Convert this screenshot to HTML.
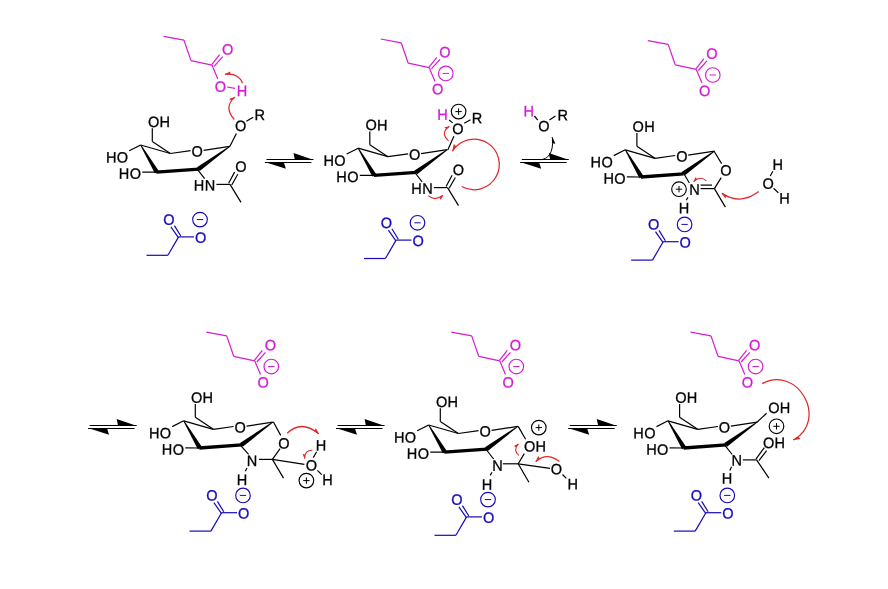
<!DOCTYPE html>
<html><head><meta charset="utf-8"><style>
html,body{margin:0;padding:0;background:#fff;}
svg{display:block;filter:blur(0.3px);}
text{font-family:"Liberation Sans",sans-serif;text-rendering:geometricPrecision;stroke-width:0.3px;}
</style></head><body>
<svg width="888" height="589" viewBox="0 0 888 589">
<rect width="888" height="589" fill="#fff"/>
<line x1="152.30" y1="141.50" x2="152.30" y2="128.20" stroke="#000" stroke-width="1.2"/>
<text transform="translate(158.75,121.80) rotate(0.3) scale(1.0,1.03)" x="-10.83" y="4.99" fill="#000" stroke="#000" font-size="14.5" letter-spacing="0.4">OH</text>
<line x1="152.30" y1="141.50" x2="170.40" y2="153.50" stroke="#000" stroke-width="1.2"/>
<line x1="140.70" y1="145.00" x2="170.40" y2="153.50" stroke="#000" stroke-width="1.2"/>
<line x1="140.70" y1="145.00" x2="129.20" y2="150.80" stroke="#000" stroke-width="1.2"/>
<text transform="translate(117.30,157.40) rotate(0.3) scale(1.0,1.03)" x="-11.32" y="4.99" fill="#000" stroke="#000" font-size="14.5" letter-spacing="0.4">HO</text>
<polygon points="140.31,145.23 154.82,173.37 158.78,171.03 141.09,144.77" fill="#000"/>
<line x1="156.80" y1="172.20" x2="142.30" y2="172.10" stroke="#000" stroke-width="1.2"/>
<text transform="translate(130.20,173.70) rotate(0.3) scale(1.0,1.03)" x="-11.32" y="4.99" fill="#000" stroke="#000" font-size="14.5" letter-spacing="0.4">HO</text>
<line x1="156.30" y1="172.20" x2="198.90" y2="169.10" stroke="#000" stroke-width="3.3"/>
<polygon points="229.54,146.04 197.05,167.24 199.75,170.96 230.06,146.76" fill="#000"/>
<line x1="170.40" y1="153.50" x2="190.60" y2="150.70" stroke="#000" stroke-width="1.2"/>
<text transform="translate(197.20,151.50) rotate(0.3) scale(1.0,1.03)" x="-5.64" y="4.99" fill="#000" stroke="#000" font-size="14.5" letter-spacing="0.4">O</text>
<line x1="203.60" y1="150.40" x2="229.80" y2="146.40" stroke="#000" stroke-width="1.2"/>
<line x1="229.80" y1="146.40" x2="236.40" y2="133.40" stroke="#000" stroke-width="1.2"/>
<text transform="translate(240.60,125.80) rotate(0.3) scale(1.0,1.03)" x="-5.64" y="4.99" fill="#000" stroke="#000" font-size="14.5" letter-spacing="0.4">O</text>
<line x1="246.40" y1="121.20" x2="253.20" y2="117.20" stroke="#000" stroke-width="1.2"/>
<text transform="translate(260.10,114.80) rotate(0.3) scale(1.0,1.03)" x="-5.49" y="4.99" fill="#000" stroke="#000" font-size="14.5" letter-spacing="0.4">R</text>
<line x1="197.80" y1="169.80" x2="204.60" y2="178.60" stroke="#000" stroke-width="1.2"/>
<text transform="translate(204.50,185.40) rotate(0.3) scale(1.0,1.03)" x="-10.67" y="4.99" fill="#000" stroke="#000" font-size="14.5" letter-spacing="0.4">HN</text>
<line x1="216.40" y1="184.40" x2="230.00" y2="184.40" stroke="#000" stroke-width="1.2"/>
<line x1="230.00" y1="184.40" x2="241.00" y2="202.40" stroke="#000" stroke-width="1.2"/>
<line x1="228.60" y1="183.30" x2="234.60" y2="172.10" stroke="#000" stroke-width="1.2"/>
<line x1="231.70" y1="185.00" x2="237.80" y2="174.30" stroke="#000" stroke-width="1.2"/>
<text transform="translate(241.00,166.60) rotate(0.3) scale(1.0,1.03)" x="-5.64" y="4.99" fill="#000" stroke="#000" font-size="14.5" letter-spacing="0.4">O</text>
<g transform="translate(-217.2,-2.6)">
<line x1="380.80" y1="39.00" x2="401.20" y2="42.80" stroke="#d41cd4" stroke-width="1.2"/>
<line x1="401.20" y1="42.80" x2="408.20" y2="63.20" stroke="#d41cd4" stroke-width="1.2"/>
<line x1="408.20" y1="63.20" x2="429.20" y2="67.70" stroke="#d41cd4" stroke-width="1.2"/>
<line x1="428.90" y1="67.30" x2="436.80" y2="57.30" stroke="#d41cd4" stroke-width="1.2"/>
<line x1="431.30" y1="68.90" x2="440.00" y2="59.30" stroke="#d41cd4" stroke-width="1.2"/>
<text transform="translate(444.90,52.10) rotate(0.3) scale(1.0,1.03)" x="-5.64" y="4.99" fill="#d41cd4" stroke="#d41cd4" font-size="14.5" letter-spacing="0.4">O</text>
<line x1="429.20" y1="67.70" x2="435.00" y2="81.50" stroke="#d41cd4" stroke-width="1.2"/>
<text transform="translate(437.60,89.20) rotate(0.3) scale(1.0,1.03)" x="-5.64" y="4.99" fill="#d41cd4" stroke="#d41cd4" font-size="14.5" letter-spacing="0.4">O</text>
</g>
<line x1="227.20" y1="87.00" x2="235.00" y2="88.30" stroke="#d41cd4" stroke-width="1.2"/>
<text transform="translate(242.00,90.80) rotate(0.3) scale(1.0,1.03)" x="-5.24" y="4.99" fill="#d41cd4" stroke="#d41cd4" font-size="14.5" letter-spacing="0.4">H</text>
<line x1="146.50" y1="255.30" x2="167.90" y2="255.30" stroke="#1608bc" stroke-width="1.2"/>
<line x1="167.90" y1="255.30" x2="178.60" y2="236.90" stroke="#1608bc" stroke-width="1.2"/>
<line x1="178.40" y1="237.60" x2="170.90" y2="226.90" stroke="#1608bc" stroke-width="1.2"/>
<line x1="180.80" y1="236.00" x2="174.40" y2="225.60" stroke="#1608bc" stroke-width="1.2"/>
<text transform="translate(169.00,219.60) rotate(0.3) scale(1.0,1.03)" x="-5.64" y="4.99" fill="#1608bc" stroke="#1608bc" font-size="14.5" letter-spacing="0.4">O</text>
<line x1="178.60" y1="236.90" x2="194.00" y2="236.90" stroke="#1608bc" stroke-width="1.2"/>
<text transform="translate(200.60,237.70) rotate(0.3) scale(1.0,1.03)" x="-5.64" y="4.99" fill="#1608bc" stroke="#1608bc" font-size="14.5" letter-spacing="0.4">O</text>
<circle cx="200.00" cy="219.60" r="7.3" fill="none" stroke="#1608bc" stroke-width="1.15"/>
<line x1="196.80" y1="219.60" x2="203.20" y2="219.60" stroke="#1608bc" stroke-width="1"/>
<path d="M242.50,83.30 Q238.95,73.00 225.20,74.30" fill="none" stroke="#e02828" stroke-width="1.25"/>
<polygon points="224.60,74.36 230.45,71.39 230.18,74.43 225.25,74.80" fill="#e02828"/>
<path d="M234.30,119.50 Q223.25,107.30 234.80,97.10" fill="none" stroke="#e02828" stroke-width="1.25"/>
<polygon points="235.25,96.70 229.09,98.94 231.49,100.83 235.13,97.47" fill="#e02828"/>
<g transform="translate(264.9,159.5)">
<line x1="1.60" y1="0.00" x2="48.50" y2="0.00" stroke="#000" stroke-width="1.1"/>
<polygon points="28.60,-6.60 49.00,0.55 30.00,0.55" fill="#000"/>
<line x1="0.00" y1="3.00" x2="46.50" y2="3.00" stroke="#000" stroke-width="1.1"/>
<polygon points="-0.20,2.45 21.00,9.30 18.80,2.45" fill="#000"/>
</g>
<g transform="translate(217.5,3.2)">
<line x1="152.30" y1="141.50" x2="152.30" y2="128.20" stroke="#000" stroke-width="1.2"/>
<text transform="translate(158.75,121.80) rotate(0.3) scale(1.0,1.03)" x="-10.83" y="4.99" fill="#000" stroke="#000" font-size="14.5" letter-spacing="0.4">OH</text>
<line x1="152.30" y1="141.50" x2="170.40" y2="153.50" stroke="#000" stroke-width="1.2"/>
<line x1="140.70" y1="145.00" x2="170.40" y2="153.50" stroke="#000" stroke-width="1.2"/>
<line x1="140.70" y1="145.00" x2="129.20" y2="150.80" stroke="#000" stroke-width="1.2"/>
<text transform="translate(117.30,157.40) rotate(0.3) scale(1.0,1.03)" x="-11.32" y="4.99" fill="#000" stroke="#000" font-size="14.5" letter-spacing="0.4">HO</text>
<polygon points="140.31,145.23 154.82,173.37 158.78,171.03 141.09,144.77" fill="#000"/>
<line x1="156.80" y1="172.20" x2="142.30" y2="172.10" stroke="#000" stroke-width="1.2"/>
<text transform="translate(130.20,173.70) rotate(0.3) scale(1.0,1.03)" x="-11.32" y="4.99" fill="#000" stroke="#000" font-size="14.5" letter-spacing="0.4">HO</text>
<line x1="156.30" y1="172.20" x2="198.90" y2="169.10" stroke="#000" stroke-width="3.3"/>
<polygon points="229.54,146.04 197.05,167.24 199.75,170.96 230.06,146.76" fill="#000"/>
<line x1="170.40" y1="153.50" x2="190.60" y2="150.70" stroke="#000" stroke-width="1.2"/>
<text transform="translate(197.20,151.50) rotate(0.3) scale(1.0,1.03)" x="-5.64" y="4.99" fill="#000" stroke="#000" font-size="14.5" letter-spacing="0.4">O</text>
<line x1="203.60" y1="150.40" x2="229.80" y2="146.40" stroke="#000" stroke-width="1.2"/>
<line x1="146.50" y1="255.30" x2="167.90" y2="255.30" stroke="#1608bc" stroke-width="1.2"/>
<line x1="167.90" y1="255.30" x2="178.60" y2="236.90" stroke="#1608bc" stroke-width="1.2"/>
<line x1="178.40" y1="237.60" x2="170.90" y2="226.90" stroke="#1608bc" stroke-width="1.2"/>
<line x1="180.80" y1="236.00" x2="174.40" y2="225.60" stroke="#1608bc" stroke-width="1.2"/>
<text transform="translate(169.00,219.60) rotate(0.3) scale(1.0,1.03)" x="-5.64" y="4.99" fill="#1608bc" stroke="#1608bc" font-size="14.5" letter-spacing="0.4">O</text>
<line x1="178.60" y1="236.90" x2="194.00" y2="236.90" stroke="#1608bc" stroke-width="1.2"/>
<text transform="translate(200.60,237.70) rotate(0.3) scale(1.0,1.03)" x="-5.64" y="4.99" fill="#1608bc" stroke="#1608bc" font-size="14.5" letter-spacing="0.4">O</text>
<circle cx="200.00" cy="219.60" r="7.3" fill="none" stroke="#1608bc" stroke-width="1.15"/>
<line x1="196.80" y1="219.60" x2="203.20" y2="219.60" stroke="#1608bc" stroke-width="1"/>
<line x1="197.80" y1="169.80" x2="204.60" y2="178.60" stroke="#000" stroke-width="1.2"/>
<text transform="translate(204.50,185.40) rotate(0.3) scale(1.0,1.03)" x="-10.67" y="4.99" fill="#000" stroke="#000" font-size="14.5" letter-spacing="0.4">HN</text>
<line x1="216.40" y1="184.40" x2="230.00" y2="184.40" stroke="#000" stroke-width="1.2"/>
<line x1="230.00" y1="184.40" x2="241.00" y2="202.40" stroke="#000" stroke-width="1.2"/>
<line x1="228.60" y1="183.30" x2="234.60" y2="172.10" stroke="#000" stroke-width="1.2"/>
<line x1="231.70" y1="185.00" x2="237.80" y2="174.30" stroke="#000" stroke-width="1.2"/>
<text transform="translate(241.00,166.60) rotate(0.3) scale(1.0,1.03)" x="-5.64" y="4.99" fill="#000" stroke="#000" font-size="14.5" letter-spacing="0.4">O</text>
</g>
<line x1="380.80" y1="39.00" x2="401.20" y2="42.80" stroke="#d41cd4" stroke-width="1.2"/>
<line x1="401.20" y1="42.80" x2="408.20" y2="63.20" stroke="#d41cd4" stroke-width="1.2"/>
<line x1="408.20" y1="63.20" x2="429.20" y2="67.70" stroke="#d41cd4" stroke-width="1.2"/>
<line x1="428.90" y1="67.30" x2="436.80" y2="57.30" stroke="#d41cd4" stroke-width="1.2"/>
<line x1="431.30" y1="68.90" x2="440.00" y2="59.30" stroke="#d41cd4" stroke-width="1.2"/>
<text transform="translate(444.90,52.10) rotate(0.3) scale(1.0,1.03)" x="-5.64" y="4.99" fill="#d41cd4" stroke="#d41cd4" font-size="14.5" letter-spacing="0.4">O</text>
<line x1="429.20" y1="67.70" x2="435.00" y2="81.50" stroke="#d41cd4" stroke-width="1.2"/>
<text transform="translate(437.60,89.20) rotate(0.3) scale(1.0,1.03)" x="-5.64" y="4.99" fill="#d41cd4" stroke="#d41cd4" font-size="14.5" letter-spacing="0.4">O</text>
<circle cx="445.80" cy="73.40" r="7.3" fill="none" stroke="#d41cd4" stroke-width="1.15"/>
<line x1="442.60" y1="73.40" x2="449.00" y2="73.40" stroke="#d41cd4" stroke-width="1"/>
<line x1="447.90" y1="149.70" x2="453.90" y2="136.20" stroke="#000" stroke-width="1.2"/>
<text transform="translate(457.80,128.80) rotate(0.3) scale(1.0,1.03)" x="-5.64" y="4.99" fill="#000" stroke="#000" font-size="14.5" letter-spacing="0.4">O</text>
<line x1="449.10" y1="120.00" x2="452.70" y2="122.90" stroke="#000" stroke-width="1.2"/>
<text transform="translate(442.50,114.60) rotate(0.3) scale(1.0,1.03)" x="-5.24" y="4.99" fill="#d41cd4" stroke="#d41cd4" font-size="14.5" letter-spacing="0.4">H</text>
<circle cx="458.60" cy="111.60" r="7.3" fill="none" stroke="#000" stroke-width="1.15"/>
<line x1="455.40" y1="111.60" x2="461.80" y2="111.60" stroke="#000" stroke-width="1"/>
<line x1="458.60" y1="108.40" x2="458.60" y2="114.80" stroke="#000" stroke-width="1"/>
<line x1="464.20" y1="123.30" x2="470.50" y2="119.80" stroke="#000" stroke-width="1.2"/>
<text transform="translate(477.30,118.10) rotate(0.3) scale(1.0,1.03)" x="-5.49" y="4.99" fill="#000" stroke="#000" font-size="14.5" letter-spacing="0.4">R</text>
<path d="M448.50,140.80 Q440.00,132.75 449.10,126.50" fill="none" stroke="#e02828" stroke-width="1.1"/>
<polygon points="449.59,126.16 444.42,127.29 446.25,129.19 449.38,126.91" fill="#e02828"/>
<path d="M461.73,186.53 A25.3,25.3 0 1 0 452.54,150.99" fill="none" stroke="#e02828" stroke-width="1.25"/>
<polygon points="452.23,151.50 453.78,144.10 456.15,146.35 452.97,151.26" fill="#e02828"/>
<path d="M428.30,195.70 Q434.65,201.60 442.80,195.50" fill="none" stroke="#e02828" stroke-width="1.1"/>
<polygon points="443.28,195.14 440.56,199.68 439.34,197.34 442.50,195.10" fill="#e02828"/>
<g transform="translate(520.2,159.5)">
<line x1="1.60" y1="0.00" x2="48.50" y2="0.00" stroke="#000" stroke-width="1.1"/>
<polygon points="28.60,-6.60 49.00,0.55 30.00,0.55" fill="#000"/>
<line x1="0.00" y1="3.00" x2="46.50" y2="3.00" stroke="#000" stroke-width="1.1"/>
<polygon points="-0.20,2.45 21.00,9.30 18.80,2.45" fill="#000"/>
</g>
<text transform="translate(528.70,111.20) rotate(0.3) scale(1.0,1.03)" x="-5.24" y="4.99" fill="#d41cd4" stroke="#d41cd4" font-size="14.5" letter-spacing="0.4">H</text>
<line x1="534.40" y1="116.00" x2="537.80" y2="120.10" stroke="#000" stroke-width="1.2"/>
<text transform="translate(544.00,126.10) rotate(0.3) scale(1.0,1.03)" x="-5.64" y="4.99" fill="#000" stroke="#000" font-size="14.5" letter-spacing="0.4">O</text>
<line x1="549.40" y1="120.10" x2="555.50" y2="116.00" stroke="#000" stroke-width="1.2"/>
<text transform="translate(563.00,115.20) rotate(0.3) scale(1.0,1.03)" x="-5.49" y="4.99" fill="#000" stroke="#000" font-size="14.5" letter-spacing="0.4">R</text>
<path d="M540.2,159.7 C547.9,159.4 553.4,153.5 552.6,138.5" fill="none" stroke="#000" stroke-width="1.0"/>
<polygon points="552.38,136.70 555.35,143.69 552.03,143.17 551.90,137.32" fill="#000"/>
<g transform="translate(484.6,4.8)">
<line x1="152.30" y1="141.50" x2="152.30" y2="128.20" stroke="#000" stroke-width="1.2"/>
<text transform="translate(158.75,121.80) rotate(0.3) scale(1.0,1.03)" x="-10.83" y="4.99" fill="#000" stroke="#000" font-size="14.5" letter-spacing="0.4">OH</text>
<line x1="152.30" y1="141.50" x2="170.40" y2="153.50" stroke="#000" stroke-width="1.2"/>
<line x1="140.70" y1="145.00" x2="170.40" y2="153.50" stroke="#000" stroke-width="1.2"/>
<line x1="140.70" y1="145.00" x2="129.20" y2="150.80" stroke="#000" stroke-width="1.2"/>
<text transform="translate(117.30,157.40) rotate(0.3) scale(1.0,1.03)" x="-11.32" y="4.99" fill="#000" stroke="#000" font-size="14.5" letter-spacing="0.4">HO</text>
<polygon points="140.31,145.23 154.82,173.37 158.78,171.03 141.09,144.77" fill="#000"/>
<line x1="156.80" y1="172.20" x2="142.30" y2="172.10" stroke="#000" stroke-width="1.2"/>
<text transform="translate(130.20,173.70) rotate(0.3) scale(1.0,1.03)" x="-11.32" y="4.99" fill="#000" stroke="#000" font-size="14.5" letter-spacing="0.4">HO</text>
<line x1="156.30" y1="172.20" x2="198.90" y2="169.10" stroke="#000" stroke-width="3.3"/>
<polygon points="229.54,146.04 197.05,167.24 199.75,170.96 230.06,146.76" fill="#000"/>
<line x1="170.40" y1="153.50" x2="190.60" y2="150.70" stroke="#000" stroke-width="1.2"/>
<text transform="translate(197.20,151.50) rotate(0.3) scale(1.0,1.03)" x="-5.64" y="4.99" fill="#000" stroke="#000" font-size="14.5" letter-spacing="0.4">O</text>
<line x1="203.60" y1="150.40" x2="229.80" y2="146.40" stroke="#000" stroke-width="1.2"/>
<line x1="146.50" y1="255.30" x2="167.90" y2="255.30" stroke="#1608bc" stroke-width="1.2"/>
<line x1="167.90" y1="255.30" x2="178.60" y2="236.90" stroke="#1608bc" stroke-width="1.2"/>
<line x1="178.40" y1="237.60" x2="170.90" y2="226.90" stroke="#1608bc" stroke-width="1.2"/>
<line x1="180.80" y1="236.00" x2="174.40" y2="225.60" stroke="#1608bc" stroke-width="1.2"/>
<text transform="translate(169.00,219.60) rotate(0.3) scale(1.0,1.03)" x="-5.64" y="4.99" fill="#1608bc" stroke="#1608bc" font-size="14.5" letter-spacing="0.4">O</text>
<line x1="178.60" y1="236.90" x2="194.00" y2="236.90" stroke="#1608bc" stroke-width="1.2"/>
<text transform="translate(200.60,237.70) rotate(0.3) scale(1.0,1.03)" x="-5.64" y="4.99" fill="#1608bc" stroke="#1608bc" font-size="14.5" letter-spacing="0.4">O</text>
<circle cx="200.00" cy="219.60" r="7.3" fill="none" stroke="#1608bc" stroke-width="1.15"/>
<line x1="196.80" y1="219.60" x2="203.20" y2="219.60" stroke="#1608bc" stroke-width="1"/>
</g>
<g transform="translate(267,1.6)">
<line x1="380.80" y1="39.00" x2="401.20" y2="42.80" stroke="#d41cd4" stroke-width="1.2"/>
<line x1="401.20" y1="42.80" x2="408.20" y2="63.20" stroke="#d41cd4" stroke-width="1.2"/>
<line x1="408.20" y1="63.20" x2="429.20" y2="67.70" stroke="#d41cd4" stroke-width="1.2"/>
<line x1="428.90" y1="67.30" x2="436.80" y2="57.30" stroke="#d41cd4" stroke-width="1.2"/>
<line x1="431.30" y1="68.90" x2="440.00" y2="59.30" stroke="#d41cd4" stroke-width="1.2"/>
<text transform="translate(444.90,52.10) rotate(0.3) scale(1.0,1.03)" x="-5.64" y="4.99" fill="#d41cd4" stroke="#d41cd4" font-size="14.5" letter-spacing="0.4">O</text>
<line x1="429.20" y1="67.70" x2="435.00" y2="81.50" stroke="#d41cd4" stroke-width="1.2"/>
<text transform="translate(437.60,89.20) rotate(0.3) scale(1.0,1.03)" x="-5.64" y="4.99" fill="#d41cd4" stroke="#d41cd4" font-size="14.5" letter-spacing="0.4">O</text>
<circle cx="445.80" cy="73.40" r="7.3" fill="none" stroke="#d41cd4" stroke-width="1.15"/>
<line x1="442.60" y1="73.40" x2="449.00" y2="73.40" stroke="#d41cd4" stroke-width="1"/>
</g>
<line x1="714.10" y1="151.20" x2="721.60" y2="163.60" stroke="#000" stroke-width="1.2"/>
<text transform="translate(726.00,170.40) rotate(0.3) scale(1.0,1.03)" x="-5.64" y="4.99" fill="#000" stroke="#000" font-size="14.5" letter-spacing="0.4">O</text>
<line x1="721.20" y1="177.60" x2="714.40" y2="188.60" stroke="#000" stroke-width="1.2"/>
<line x1="700.60" y1="185.10" x2="712.00" y2="185.10" stroke="#000" stroke-width="1.2"/>
<line x1="700.60" y1="188.60" x2="714.40" y2="188.60" stroke="#000" stroke-width="1.2"/>
<text transform="translate(694.50,189.70) rotate(0.3) scale(1.0,1.03)" x="-5.24" y="4.99" fill="#000" stroke="#000" font-size="14.5" letter-spacing="0.4">N</text>
<circle cx="679.00" cy="189.20" r="7.3" fill="none" stroke="#000" stroke-width="1.15"/>
<line x1="675.80" y1="189.20" x2="682.20" y2="189.20" stroke="#000" stroke-width="1"/>
<line x1="679.00" y1="186.00" x2="679.00" y2="192.40" stroke="#000" stroke-width="1"/>
<line x1="684.20" y1="174.20" x2="689.40" y2="183.00" stroke="#000" stroke-width="1.2"/>
<line x1="688.00" y1="197.40" x2="686.20" y2="200.20" stroke="#000" stroke-width="1.2"/>
<text transform="translate(684.00,208.20) rotate(0.3) scale(1.0,1.03)" x="-5.24" y="4.99" fill="#000" stroke="#000" font-size="14.5" letter-spacing="0.4">H</text>
<line x1="714.40" y1="188.60" x2="725.40" y2="207.10" stroke="#000" stroke-width="1.2"/>
<path d="M706.30,180.90 Q700.35,175.40 693.80,181.50" fill="none" stroke="#e02828" stroke-width="1.1"/>
<polygon points="693.36,181.91 695.58,177.11 697.04,179.30 694.14,181.87" fill="#e02828"/>
<path d="M758.70,191.60 Q740.85,205.50 722.00,193.40" fill="none" stroke="#e02828" stroke-width="1.25"/>
<polygon points="721.50,193.08 725.33,198.39 726.49,195.57 722.27,192.98" fill="#e02828"/>
<text transform="translate(768.20,183.60) rotate(0.3) scale(1.0,1.03)" x="-5.64" y="4.99" fill="#000" stroke="#000" font-size="14.5" letter-spacing="0.4">O</text>
<text transform="translate(777.70,164.70) rotate(0.3) scale(1.0,1.03)" x="-5.24" y="4.99" fill="#000" stroke="#000" font-size="14.5" letter-spacing="0.4">H</text>
<text transform="translate(784.40,198.50) rotate(0.3) scale(1.0,1.03)" x="-5.24" y="4.99" fill="#000" stroke="#000" font-size="14.5" letter-spacing="0.4">H</text>
<line x1="770.20" y1="176.00" x2="772.90" y2="171.20" stroke="#000" stroke-width="1.2"/>
<line x1="773.60" y1="188.20" x2="778.40" y2="192.90" stroke="#000" stroke-width="1.2"/>
<g transform="translate(88.1,425.5)">
<line x1="1.60" y1="0.00" x2="48.50" y2="0.00" stroke="#000" stroke-width="1.1"/>
<polygon points="28.60,-6.60 49.00,0.55 30.00,0.55" fill="#000"/>
<line x1="0.00" y1="3.00" x2="46.50" y2="3.00" stroke="#000" stroke-width="1.1"/>
<polygon points="-0.20,2.45 21.00,9.30 18.80,2.45" fill="#000"/>
</g>
<g transform="translate(336.0,425.5)">
<line x1="1.60" y1="0.00" x2="48.50" y2="0.00" stroke="#000" stroke-width="1.1"/>
<polygon points="28.60,-6.60 49.00,0.55 30.00,0.55" fill="#000"/>
<line x1="0.00" y1="3.00" x2="46.50" y2="3.00" stroke="#000" stroke-width="1.1"/>
<polygon points="-0.20,2.45 21.00,9.30 18.80,2.45" fill="#000"/>
</g>
<g transform="translate(568.2,425.5)">
<line x1="1.60" y1="0.00" x2="48.50" y2="0.00" stroke="#000" stroke-width="1.1"/>
<polygon points="28.60,-6.60 49.00,0.55 30.00,0.55" fill="#000"/>
<line x1="0.00" y1="3.00" x2="46.50" y2="3.00" stroke="#000" stroke-width="1.1"/>
<polygon points="-0.20,2.45 21.00,9.30 18.80,2.45" fill="#000"/>
</g>
<g transform="translate(43,275.8)">
<line x1="152.30" y1="141.50" x2="152.30" y2="128.20" stroke="#000" stroke-width="1.2"/>
<text transform="translate(158.75,121.80) rotate(0.3) scale(1.0,1.03)" x="-10.83" y="4.99" fill="#000" stroke="#000" font-size="14.5" letter-spacing="0.4">OH</text>
<line x1="152.30" y1="141.50" x2="170.40" y2="153.50" stroke="#000" stroke-width="1.2"/>
<line x1="140.70" y1="145.00" x2="170.40" y2="153.50" stroke="#000" stroke-width="1.2"/>
<line x1="140.70" y1="145.00" x2="129.20" y2="150.80" stroke="#000" stroke-width="1.2"/>
<text transform="translate(117.30,157.40) rotate(0.3) scale(1.0,1.03)" x="-11.32" y="4.99" fill="#000" stroke="#000" font-size="14.5" letter-spacing="0.4">HO</text>
<polygon points="140.31,145.23 154.82,173.37 158.78,171.03 141.09,144.77" fill="#000"/>
<line x1="156.80" y1="172.20" x2="142.30" y2="172.10" stroke="#000" stroke-width="1.2"/>
<text transform="translate(130.20,173.70) rotate(0.3) scale(1.0,1.03)" x="-11.32" y="4.99" fill="#000" stroke="#000" font-size="14.5" letter-spacing="0.4">HO</text>
<line x1="156.30" y1="172.20" x2="198.90" y2="169.10" stroke="#000" stroke-width="3.3"/>
<polygon points="229.54,146.04 197.05,167.24 199.75,170.96 230.06,146.76" fill="#000"/>
<line x1="170.40" y1="153.50" x2="190.60" y2="150.70" stroke="#000" stroke-width="1.2"/>
<text transform="translate(197.20,151.50) rotate(0.3) scale(1.0,1.03)" x="-5.64" y="4.99" fill="#000" stroke="#000" font-size="14.5" letter-spacing="0.4">O</text>
<line x1="203.60" y1="150.40" x2="229.80" y2="146.40" stroke="#000" stroke-width="1.2"/>
<line x1="146.50" y1="255.30" x2="167.90" y2="255.30" stroke="#1608bc" stroke-width="1.2"/>
<line x1="167.90" y1="255.30" x2="178.60" y2="236.90" stroke="#1608bc" stroke-width="1.2"/>
<line x1="178.40" y1="237.60" x2="170.90" y2="226.90" stroke="#1608bc" stroke-width="1.2"/>
<line x1="180.80" y1="236.00" x2="174.40" y2="225.60" stroke="#1608bc" stroke-width="1.2"/>
<text transform="translate(169.00,219.60) rotate(0.3) scale(1.0,1.03)" x="-5.64" y="4.99" fill="#1608bc" stroke="#1608bc" font-size="14.5" letter-spacing="0.4">O</text>
<line x1="178.60" y1="236.90" x2="194.00" y2="236.90" stroke="#1608bc" stroke-width="1.2"/>
<text transform="translate(200.60,237.70) rotate(0.3) scale(1.0,1.03)" x="-5.64" y="4.99" fill="#1608bc" stroke="#1608bc" font-size="14.5" letter-spacing="0.4">O</text>
<circle cx="200.00" cy="219.60" r="7.3" fill="none" stroke="#1608bc" stroke-width="1.15"/>
<line x1="196.80" y1="219.60" x2="203.20" y2="219.60" stroke="#1608bc" stroke-width="1"/>
</g>
<g transform="translate(-174.5,293.1)">
<line x1="380.80" y1="39.00" x2="401.20" y2="42.80" stroke="#d41cd4" stroke-width="1.2"/>
<line x1="401.20" y1="42.80" x2="408.20" y2="63.20" stroke="#d41cd4" stroke-width="1.2"/>
<line x1="408.20" y1="63.20" x2="429.20" y2="67.70" stroke="#d41cd4" stroke-width="1.2"/>
<line x1="428.90" y1="67.30" x2="436.80" y2="57.30" stroke="#d41cd4" stroke-width="1.2"/>
<line x1="431.30" y1="68.90" x2="440.00" y2="59.30" stroke="#d41cd4" stroke-width="1.2"/>
<text transform="translate(444.90,52.10) rotate(0.3) scale(1.0,1.03)" x="-5.64" y="4.99" fill="#d41cd4" stroke="#d41cd4" font-size="14.5" letter-spacing="0.4">O</text>
<line x1="429.20" y1="67.70" x2="435.00" y2="81.50" stroke="#d41cd4" stroke-width="1.2"/>
<text transform="translate(437.60,89.20) rotate(0.3) scale(1.0,1.03)" x="-5.64" y="4.99" fill="#d41cd4" stroke="#d41cd4" font-size="14.5" letter-spacing="0.4">O</text>
<circle cx="445.80" cy="73.40" r="7.3" fill="none" stroke="#d41cd4" stroke-width="1.15"/>
<line x1="442.60" y1="73.40" x2="449.00" y2="73.40" stroke="#d41cd4" stroke-width="1"/>
</g>
<line x1="273.30" y1="421.70" x2="280.70" y2="435.40" stroke="#000" stroke-width="1.2"/>
<text transform="translate(284.00,443.50) rotate(0.3) scale(1.0,1.03)" x="-5.64" y="4.99" fill="#000" stroke="#000" font-size="14.5" letter-spacing="0.4">O</text>
<line x1="280.10" y1="448.60" x2="272.40" y2="459.40" stroke="#000" stroke-width="1.2"/>
<text transform="translate(252.10,461.00) rotate(0.3) scale(1.0,1.03)" x="-5.24" y="4.99" fill="#000" stroke="#000" font-size="14.5" letter-spacing="0.4">N</text>
<line x1="258.90" y1="459.40" x2="272.40" y2="459.40" stroke="#000" stroke-width="1.2"/>
<line x1="272.40" y1="459.40" x2="283.50" y2="478.10" stroke="#000" stroke-width="1.2"/>
<line x1="272.40" y1="459.40" x2="304.40" y2="464.40" stroke="#000" stroke-width="1.2"/>
<line x1="240.80" y1="445.60" x2="248.60" y2="454.30" stroke="#000" stroke-width="1.2"/>
<line x1="247.00" y1="467.90" x2="245.30" y2="471.30" stroke="#000" stroke-width="1.2"/>
<text transform="translate(241.90,480.00) rotate(0.3) scale(1.0,1.03)" x="-5.24" y="4.99" fill="#000" stroke="#000" font-size="14.5" letter-spacing="0.4">H</text>
<text transform="translate(311.40,465.30) rotate(0.3) scale(1.0,1.03)" x="-5.64" y="4.99" fill="#000" stroke="#000" font-size="14.5" letter-spacing="0.4">O</text>
<text transform="translate(321.00,445.50) rotate(0.3) scale(1.0,1.03)" x="-5.24" y="4.99" fill="#000" stroke="#000" font-size="14.5" letter-spacing="0.4">H</text>
<line x1="313.30" y1="457.60" x2="316.60" y2="451.80" stroke="#000" stroke-width="1.2"/>
<text transform="translate(327.40,480.00) rotate(0.3) scale(1.0,1.03)" x="-5.24" y="4.99" fill="#000" stroke="#000" font-size="14.5" letter-spacing="0.4">H</text>
<line x1="317.40" y1="470.40" x2="321.70" y2="474.70" stroke="#000" stroke-width="1.2"/>
<circle cx="306.40" cy="480.60" r="7.3" fill="none" stroke="#000" stroke-width="1.15"/>
<line x1="303.20" y1="480.60" x2="309.60" y2="480.60" stroke="#000" stroke-width="1"/>
<line x1="306.40" y1="477.40" x2="306.40" y2="483.80" stroke="#000" stroke-width="1"/>
<path d="M287.20,433.30 Q301.30,419.50 318.60,433.70" fill="none" stroke="#e02828" stroke-width="1.25"/>
<polygon points="319.06,434.08 315.87,428.36 314.39,431.02 318.28,434.09" fill="#e02828"/>
<path d="M312.30,450.20 Q304.55,450.15 304.60,458.30" fill="none" stroke="#e02828" stroke-width="1.1"/>
<polygon points="304.60,458.90 302.57,454.01 305.18,454.43 305.10,458.30" fill="#e02828"/>
<g transform="translate(288,280)">
<line x1="152.30" y1="141.50" x2="152.30" y2="128.20" stroke="#000" stroke-width="1.2"/>
<text transform="translate(158.75,121.80) rotate(0.3) scale(1.0,1.03)" x="-10.83" y="4.99" fill="#000" stroke="#000" font-size="14.5" letter-spacing="0.4">OH</text>
<line x1="152.30" y1="141.50" x2="170.40" y2="153.50" stroke="#000" stroke-width="1.2"/>
<line x1="140.70" y1="145.00" x2="170.40" y2="153.50" stroke="#000" stroke-width="1.2"/>
<line x1="140.70" y1="145.00" x2="129.20" y2="150.80" stroke="#000" stroke-width="1.2"/>
<text transform="translate(117.30,157.40) rotate(0.3) scale(1.0,1.03)" x="-11.32" y="4.99" fill="#000" stroke="#000" font-size="14.5" letter-spacing="0.4">HO</text>
<polygon points="140.31,145.23 154.82,173.37 158.78,171.03 141.09,144.77" fill="#000"/>
<line x1="156.80" y1="172.20" x2="142.30" y2="172.10" stroke="#000" stroke-width="1.2"/>
<text transform="translate(130.20,173.70) rotate(0.3) scale(1.0,1.03)" x="-11.32" y="4.99" fill="#000" stroke="#000" font-size="14.5" letter-spacing="0.4">HO</text>
<line x1="156.30" y1="172.20" x2="198.90" y2="169.10" stroke="#000" stroke-width="3.3"/>
<polygon points="229.54,146.04 197.05,167.24 199.75,170.96 230.06,146.76" fill="#000"/>
<line x1="170.40" y1="153.50" x2="190.60" y2="150.70" stroke="#000" stroke-width="1.2"/>
<text transform="translate(197.20,151.50) rotate(0.3) scale(1.0,1.03)" x="-5.64" y="4.99" fill="#000" stroke="#000" font-size="14.5" letter-spacing="0.4">O</text>
<line x1="203.60" y1="150.40" x2="229.80" y2="146.40" stroke="#000" stroke-width="1.2"/>
<line x1="146.50" y1="255.30" x2="167.90" y2="255.30" stroke="#1608bc" stroke-width="1.2"/>
<line x1="167.90" y1="255.30" x2="178.60" y2="236.90" stroke="#1608bc" stroke-width="1.2"/>
<line x1="178.40" y1="237.60" x2="170.90" y2="226.90" stroke="#1608bc" stroke-width="1.2"/>
<line x1="180.80" y1="236.00" x2="174.40" y2="225.60" stroke="#1608bc" stroke-width="1.2"/>
<text transform="translate(169.00,219.60) rotate(0.3) scale(1.0,1.03)" x="-5.64" y="4.99" fill="#1608bc" stroke="#1608bc" font-size="14.5" letter-spacing="0.4">O</text>
<line x1="178.60" y1="236.90" x2="194.00" y2="236.90" stroke="#1608bc" stroke-width="1.2"/>
<text transform="translate(200.60,237.70) rotate(0.3) scale(1.0,1.03)" x="-5.64" y="4.99" fill="#1608bc" stroke="#1608bc" font-size="14.5" letter-spacing="0.4">O</text>
<circle cx="200.00" cy="219.60" r="7.3" fill="none" stroke="#1608bc" stroke-width="1.15"/>
<line x1="196.80" y1="219.60" x2="203.20" y2="219.60" stroke="#1608bc" stroke-width="1"/>
</g>
<g transform="translate(70.5,293.1)">
<line x1="380.80" y1="39.00" x2="401.20" y2="42.80" stroke="#d41cd4" stroke-width="1.2"/>
<line x1="401.20" y1="42.80" x2="408.20" y2="63.20" stroke="#d41cd4" stroke-width="1.2"/>
<line x1="408.20" y1="63.20" x2="429.20" y2="67.70" stroke="#d41cd4" stroke-width="1.2"/>
<line x1="428.90" y1="67.30" x2="436.80" y2="57.30" stroke="#d41cd4" stroke-width="1.2"/>
<line x1="431.30" y1="68.90" x2="440.00" y2="59.30" stroke="#d41cd4" stroke-width="1.2"/>
<text transform="translate(444.90,52.10) rotate(0.3) scale(1.0,1.03)" x="-5.64" y="4.99" fill="#d41cd4" stroke="#d41cd4" font-size="14.5" letter-spacing="0.4">O</text>
<line x1="429.20" y1="67.70" x2="435.00" y2="81.50" stroke="#d41cd4" stroke-width="1.2"/>
<text transform="translate(437.60,89.20) rotate(0.3) scale(1.0,1.03)" x="-5.64" y="4.99" fill="#d41cd4" stroke="#d41cd4" font-size="14.5" letter-spacing="0.4">O</text>
<circle cx="445.80" cy="73.40" r="7.3" fill="none" stroke="#d41cd4" stroke-width="1.15"/>
<line x1="442.60" y1="73.40" x2="449.00" y2="73.40" stroke="#d41cd4" stroke-width="1"/>
</g>
<line x1="518.20" y1="426.40" x2="525.60" y2="439.20" stroke="#000" stroke-width="1.2"/>
<text transform="translate(534.80,446.40) rotate(0.3) scale(1.0,1.03)" x="-10.83" y="4.99" fill="#000" stroke="#000" font-size="14.5" letter-spacing="0.4">OH</text>
<circle cx="538.80" cy="427.60" r="7.3" fill="none" stroke="#000" stroke-width="1.15"/>
<line x1="535.60" y1="427.60" x2="542.00" y2="427.60" stroke="#000" stroke-width="1"/>
<line x1="538.80" y1="424.40" x2="538.80" y2="430.80" stroke="#000" stroke-width="1"/>
<line x1="524.30" y1="453.60" x2="518.20" y2="463.80" stroke="#000" stroke-width="1.2"/>
<text transform="translate(497.60,465.60) rotate(0.3) scale(1.0,1.03)" x="-5.24" y="4.99" fill="#000" stroke="#000" font-size="14.5" letter-spacing="0.4">N</text>
<line x1="502.90" y1="463.80" x2="518.20" y2="463.80" stroke="#000" stroke-width="1.2"/>
<line x1="518.20" y1="463.80" x2="528.90" y2="482.20" stroke="#000" stroke-width="1.2"/>
<line x1="518.20" y1="463.80" x2="550.00" y2="468.40" stroke="#000" stroke-width="1.2"/>
<text transform="translate(556.40,469.20) rotate(0.3) scale(1.0,1.03)" x="-5.64" y="4.99" fill="#000" stroke="#000" font-size="14.5" letter-spacing="0.4">O</text>
<line x1="562.50" y1="474.50" x2="566.30" y2="478.30" stroke="#000" stroke-width="1.2"/>
<text transform="translate(572.80,484.20) rotate(0.3) scale(1.0,1.03)" x="-5.24" y="4.99" fill="#000" stroke="#000" font-size="14.5" letter-spacing="0.4">H</text>
<line x1="485.80" y1="449.00" x2="493.60" y2="459.00" stroke="#000" stroke-width="1.2"/>
<line x1="492.00" y1="472.20" x2="490.20" y2="475.40" stroke="#000" stroke-width="1.2"/>
<text transform="translate(486.90,484.60) rotate(0.3) scale(1.0,1.03)" x="-5.24" y="4.99" fill="#000" stroke="#000" font-size="14.5" letter-spacing="0.4">H</text>
<path d="M519.00,455.40 Q512.60,450.50 518.20,444.00" fill="none" stroke="#e02828" stroke-width="1.1"/>
<polygon points="518.59,443.55 513.88,445.95 516.13,447.32 518.58,444.33" fill="#e02828"/>
<path d="M559.40,461.50 Q546.80,451.70 535.80,461.50" fill="none" stroke="#e02828" stroke-width="1.25"/>
<polygon points="535.35,461.90 538.31,456.05 539.90,458.66 536.13,461.87" fill="#e02828"/>
<g transform="translate(527.3,275.8)">
<line x1="152.30" y1="141.50" x2="152.30" y2="128.20" stroke="#000" stroke-width="1.2"/>
<text transform="translate(158.75,121.80) rotate(0.3) scale(1.0,1.03)" x="-10.83" y="4.99" fill="#000" stroke="#000" font-size="14.5" letter-spacing="0.4">OH</text>
<line x1="152.30" y1="141.50" x2="170.40" y2="153.50" stroke="#000" stroke-width="1.2"/>
<line x1="140.70" y1="145.00" x2="170.40" y2="153.50" stroke="#000" stroke-width="1.2"/>
<line x1="140.70" y1="145.00" x2="129.20" y2="150.80" stroke="#000" stroke-width="1.2"/>
<text transform="translate(117.30,157.40) rotate(0.3) scale(1.0,1.03)" x="-11.32" y="4.99" fill="#000" stroke="#000" font-size="14.5" letter-spacing="0.4">HO</text>
<polygon points="140.31,145.23 154.82,173.37 158.78,171.03 141.09,144.77" fill="#000"/>
<line x1="156.80" y1="172.20" x2="142.30" y2="172.10" stroke="#000" stroke-width="1.2"/>
<text transform="translate(130.20,173.70) rotate(0.3) scale(1.0,1.03)" x="-11.32" y="4.99" fill="#000" stroke="#000" font-size="14.5" letter-spacing="0.4">HO</text>
<line x1="156.30" y1="172.20" x2="198.90" y2="169.10" stroke="#000" stroke-width="3.3"/>
<polygon points="229.54,146.04 197.05,167.24 199.75,170.96 230.06,146.76" fill="#000"/>
<line x1="170.40" y1="153.50" x2="190.60" y2="150.70" stroke="#000" stroke-width="1.2"/>
<text transform="translate(197.20,151.50) rotate(0.3) scale(1.0,1.03)" x="-5.64" y="4.99" fill="#000" stroke="#000" font-size="14.5" letter-spacing="0.4">O</text>
<line x1="203.60" y1="150.40" x2="229.80" y2="146.40" stroke="#000" stroke-width="1.2"/>
<line x1="146.50" y1="255.30" x2="167.90" y2="255.30" stroke="#1608bc" stroke-width="1.2"/>
<line x1="167.90" y1="255.30" x2="178.60" y2="236.90" stroke="#1608bc" stroke-width="1.2"/>
<line x1="178.40" y1="237.60" x2="170.90" y2="226.90" stroke="#1608bc" stroke-width="1.2"/>
<line x1="180.80" y1="236.00" x2="174.40" y2="225.60" stroke="#1608bc" stroke-width="1.2"/>
<text transform="translate(169.00,219.60) rotate(0.3) scale(1.0,1.03)" x="-5.64" y="4.99" fill="#1608bc" stroke="#1608bc" font-size="14.5" letter-spacing="0.4">O</text>
<line x1="178.60" y1="236.90" x2="194.00" y2="236.90" stroke="#1608bc" stroke-width="1.2"/>
<text transform="translate(200.60,237.70) rotate(0.3) scale(1.0,1.03)" x="-5.64" y="4.99" fill="#1608bc" stroke="#1608bc" font-size="14.5" letter-spacing="0.4">O</text>
<circle cx="200.00" cy="219.60" r="7.3" fill="none" stroke="#1608bc" stroke-width="1.15"/>
<line x1="196.80" y1="219.60" x2="203.20" y2="219.60" stroke="#1608bc" stroke-width="1"/>
</g>
<g transform="translate(309.8,293.1)">
<line x1="380.80" y1="39.00" x2="401.20" y2="42.80" stroke="#d41cd4" stroke-width="1.2"/>
<line x1="401.20" y1="42.80" x2="408.20" y2="63.20" stroke="#d41cd4" stroke-width="1.2"/>
<line x1="408.20" y1="63.20" x2="429.20" y2="67.70" stroke="#d41cd4" stroke-width="1.2"/>
<line x1="428.90" y1="67.30" x2="436.80" y2="57.30" stroke="#d41cd4" stroke-width="1.2"/>
<line x1="431.30" y1="68.90" x2="440.00" y2="59.30" stroke="#d41cd4" stroke-width="1.2"/>
<text transform="translate(444.90,52.10) rotate(0.3) scale(1.0,1.03)" x="-5.64" y="4.99" fill="#d41cd4" stroke="#d41cd4" font-size="14.5" letter-spacing="0.4">O</text>
<line x1="429.20" y1="67.70" x2="435.00" y2="81.50" stroke="#d41cd4" stroke-width="1.2"/>
<text transform="translate(437.60,89.20) rotate(0.3) scale(1.0,1.03)" x="-5.64" y="4.99" fill="#d41cd4" stroke="#d41cd4" font-size="14.5" letter-spacing="0.4">O</text>
<circle cx="445.80" cy="73.40" r="7.3" fill="none" stroke="#d41cd4" stroke-width="1.15"/>
<line x1="442.60" y1="73.40" x2="449.00" y2="73.40" stroke="#d41cd4" stroke-width="1"/>
</g>
<line x1="756.60" y1="422.50" x2="766.60" y2="413.30" stroke="#000" stroke-width="1.2"/>
<text transform="translate(779.00,407.80) rotate(0.3) scale(1.0,1.03)" x="-10.83" y="4.99" fill="#000" stroke="#000" font-size="14.5" letter-spacing="0.4">OH</text>
<circle cx="776.50" cy="426.30" r="7.3" fill="none" stroke="#000" stroke-width="1.15"/>
<line x1="773.30" y1="426.30" x2="779.70" y2="426.30" stroke="#000" stroke-width="1"/>
<line x1="776.50" y1="423.10" x2="776.50" y2="429.50" stroke="#000" stroke-width="1"/>
<line x1="725.10" y1="445.60" x2="732.20" y2="454.50" stroke="#000" stroke-width="1.2"/>
<text transform="translate(736.80,460.50) rotate(0.3) scale(1.0,1.03)" x="-5.24" y="4.99" fill="#000" stroke="#000" font-size="14.5" letter-spacing="0.4">N</text>
<line x1="742.90" y1="459.90" x2="756.60" y2="459.90" stroke="#000" stroke-width="1.2"/>
<line x1="755.90" y1="459.10" x2="764.30" y2="447.70" stroke="#000" stroke-width="1.2"/>
<line x1="758.90" y1="460.60" x2="766.60" y2="450.70" stroke="#000" stroke-width="1.2"/>
<text transform="translate(773.80,442.90) rotate(0.3) scale(1.0,1.03)" x="-10.83" y="4.99" fill="#000" stroke="#000" font-size="14.5" letter-spacing="0.4">OH</text>
<line x1="756.60" y1="459.90" x2="768.90" y2="478.20" stroke="#000" stroke-width="1.2"/>
<line x1="731.50" y1="466.80" x2="729.90" y2="470.60" stroke="#000" stroke-width="1.2"/>
<text transform="translate(726.90,478.40) rotate(0.3) scale(1.0,1.03)" x="-5.24" y="4.99" fill="#000" stroke="#000" font-size="14.5" letter-spacing="0.4">H</text>
<path d="M762.2,383.6 C797.3,364.5 829.2,419.6 793.5,440.0" fill="none" stroke="#e02828" stroke-width="1.25"/>
<polygon points="792.98,440.30 800.43,439.03 798.28,436.58 793.25,439.57" fill="#e02828"/>
</svg></body></html>
